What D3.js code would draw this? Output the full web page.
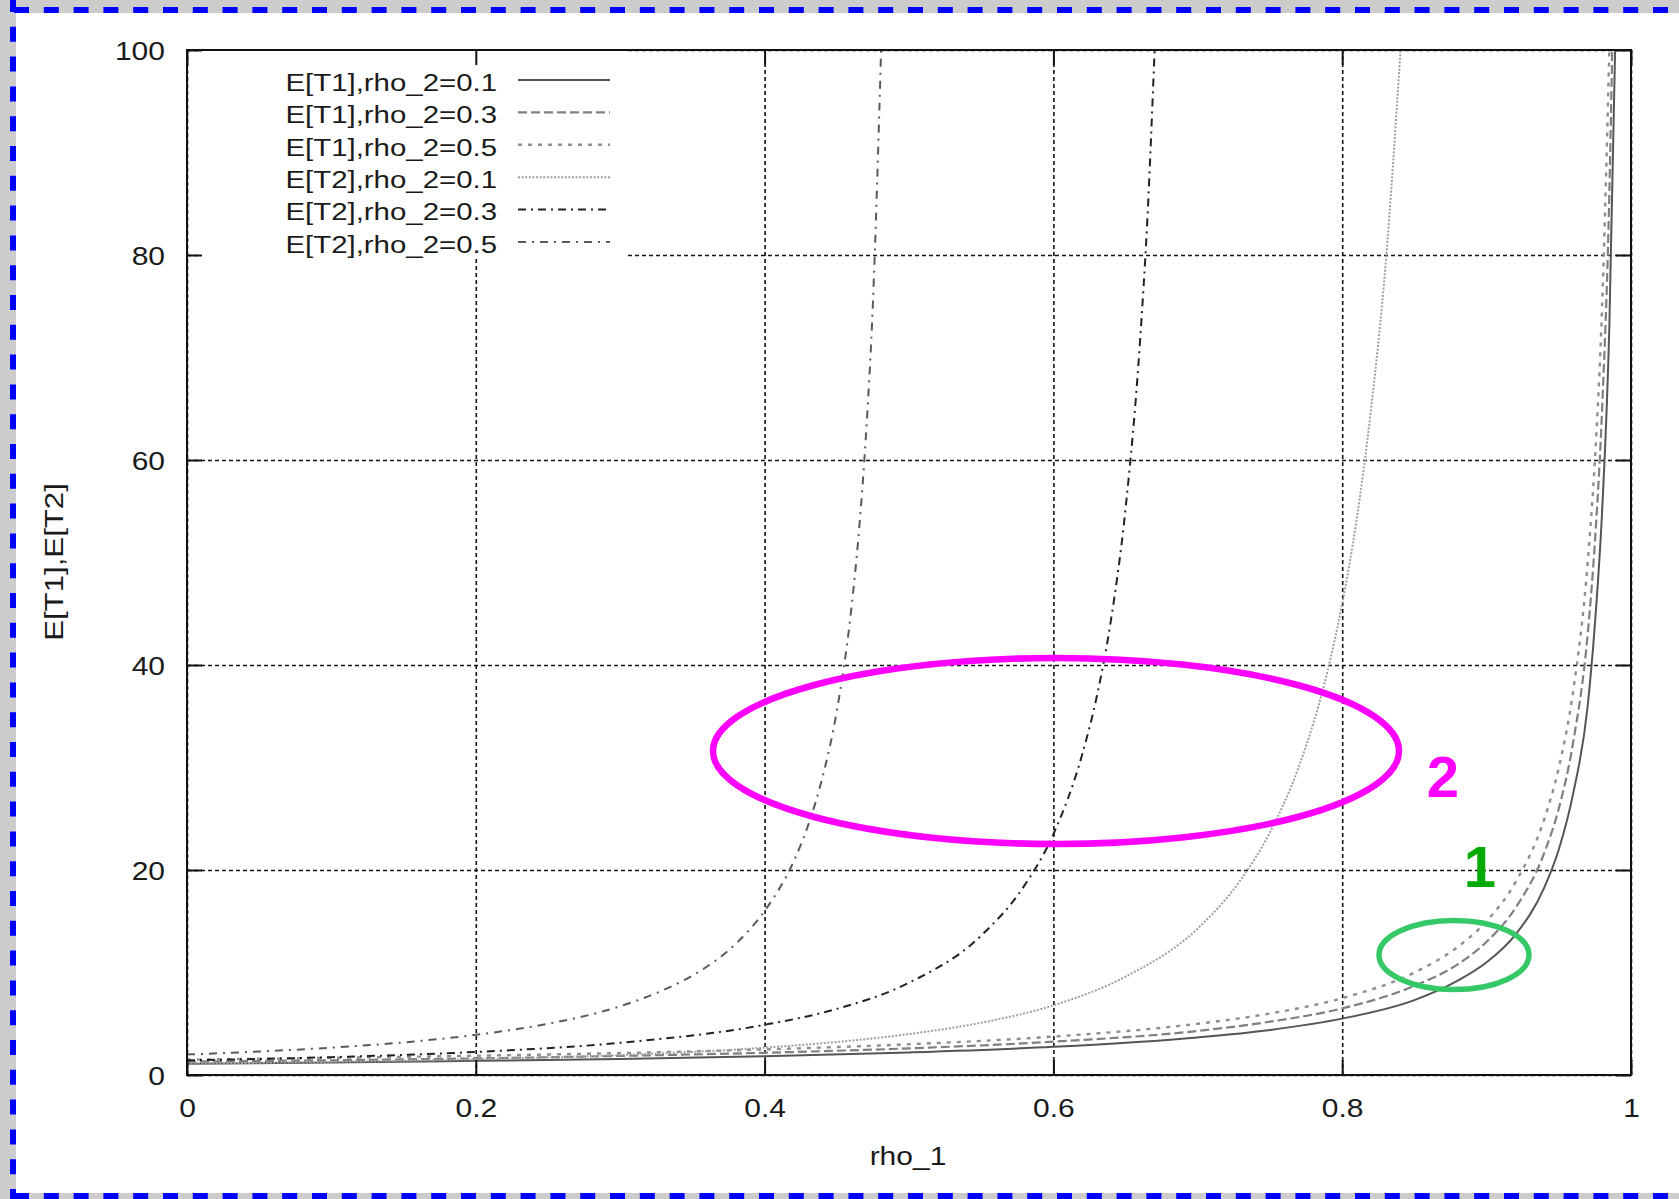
<!DOCTYPE html>
<html>
<head>
<meta charset="utf-8">
<script src="https://cdn.jsdelivr.net/npm/d3@7"></script>
<style>
  body { margin: 0; background: #cccccc; }
  svg { display: block; }
  text { font-family: "Liberation Sans", Arial, sans-serif; fill: #1a1a1a; }
</style>
</head>
<body>
<svg id="chart" width="1679" height="1199"></svg>
<script>
// values
var xTicks = [0, 0.2, 0.4, 0.6, 0.8, 1];
var xTickLabels = ["0", "0.2", "0.4", "0.6", "0.8", "1"];
var yTicks = [0, 20, 40, 60, 80, 100];
var yTickLabels = ["0", "20", "40", "60", "80", "100"];

var seriesNames = ["E[T1],rho_2=0.1", "E[T1],rho_2=0.3", "E[T1],rho_2=0.5",
                   "E[T2],rho_2=0.1", "E[T2],rho_2=0.3", "E[T2],rho_2=0.5"];

var rhoT1a = [0, 0.1, 0.2, 0.3, 0.4, 0.5, 0.6, 0.7, 0.75, 0.8, 0.85, 0.88, 0.9, 0.92, 0.94, 0.95, 0.96, 0.97, 0.975, 0.98, 0.985, 0.989];
var valT1a = [1.1, 1.22, 1.38, 1.57, 1.83, 2.2, 2.75, 3.67, 4.4, 5.5, 7.3, 9.2, 11, 13.7, 18.3, 22, 27.5, 36, 44, 55, 73, 100];

var rhoT1b = [0, 0.1, 0.2, 0.3, 0.4, 0.5, 0.6, 0.7, 0.75, 0.8, 0.85, 0.88, 0.9, 0.92, 0.94, 0.95, 0.96, 0.97, 0.975, 0.98, 0.985, 0.987];
var valT1b = [1.3, 1.44, 1.62, 1.86, 2.17, 2.6, 3.25, 4.3, 5.2, 6.5, 8.7, 10.8, 13, 16.3, 21.7, 26, 32.5, 43, 52, 65, 86, 100];

var rhoT1c = [0, 0.1, 0.2, 0.3, 0.4, 0.5, 0.6, 0.7, 0.75, 0.8, 0.85, 0.88, 0.9, 0.92, 0.94, 0.95, 0.96, 0.97, 0.975, 0.98, 0.985];
var valT1c = [1.5, 1.67, 1.88, 2.14, 2.5, 3.0, 3.75, 5.0, 6.0, 7.5, 10, 12.5, 15, 18.8, 25, 30, 37.5, 50, 60, 75, 100];

var rhoT2a = [0, 0.1, 0.2, 0.3, 0.4, 0.5, 0.55, 0.6, 0.65, 0.7, 0.73, 0.75, 0.77, 0.79, 0.8, 0.81, 0.82, 0.83, 0.8404];
var valT2a = [1.11, 1.28, 1.54, 1.95, 2.67, 4.0, 5.1, 6.8, 9.6, 14.3, 19.1, 23.7, 30.1, 39.5, 46, 54.2, 65, 79, 100];

var rhoT2b = [0, 0.1, 0.2, 0.3, 0.4, 0.45, 0.5, 0.55, 0.58, 0.6, 0.62, 0.63, 0.64, 0.65, 0.66, 0.665, 0.6701];
var valT2b = [1.43, 1.74, 2.25, 3.14, 4.9, 6.45, 9, 13.6, 18.5, 23.5, 31.3, 36.9, 44.5, 55.3, 71.6, 83.3, 100];

var rhoT2c = [0, 0.05, 0.1, 0.15, 0.2, 0.25, 0.3, 0.33, 0.35, 0.38, 0.4, 0.42, 0.43, 0.44, 0.45, 0.46, 0.465, 0.47, 0.475, 0.4807];
var valT2c = [2.0, 2.29, 2.67, 3.18, 3.92, 5.0, 6.71, 8.3, 9.7, 12.8, 16, 20.8, 24.3, 29, 35.5, 45.4, 52.5, 62, 75.3, 100];

var seriesRho = [rhoT1a, rhoT1b, rhoT1c, rhoT2a, rhoT2b, rhoT2c];
var seriesVal = [valT1a, valT1b, valT1c, valT2a, valT2b, valT2c];

var lineColors = ["#555555", "#808080", "#8e8e8e", "#a0a0a0", "#222222", "#5a5a5a"];
var lineDashes = [null, "9,4", "4,6", "2,1.6", "8,5,2,5", "8,6,2,6"];
var lineWidths = [2, 2.2, 2.4, 2, 2, 2];

var svg = d3.select("#chart");
var plotL = 187, plotR = 1631, plotT = 50, plotB = 1075;
var STRETCH = "scale(1.2,1)";

var x = d3.scaleLinear().domain([0, 1]).range([plotL, plotR]);
var y = d3.scaleLinear().domain([0, 100]).range([plotB, plotT]);

// page: grey background, white sheet, blue dashed edges
svg.append("rect").attr("width", 1679).attr("height", 1199).attr("fill", "#cccccc");
svg.append("rect").attr("x", 16).attr("y", 13).attr("width", 1663).attr("height", 1180).attr("fill", "#ffffff");
var edge = svg.append("g").attr("fill", "none").attr("stroke", "#0000ff")
	.attr("stroke-width", 6).attr("stroke-dasharray", "15,14.8");
edge.append("line").attr("x1", 14).attr("y1", 10).attr("x2", 1679).attr("y2", 10);
edge.append("line").attr("x1", 13).attr("y1", -3).attr("x2", 13).attr("y2", 1199);
edge.append("line").attr("x1", 14).attr("y1", 1196).attr("x2", 1679).attr("y2", 1196);

// grid
var gridY = svg.append("g").attr("transform", "translate(" + plotL + ",0)")
	.call(d3.axisLeft(y).tickValues(yTicks).tickSize(-(plotR - plotL)).tickFormat(""));
var gridX = svg.append("g").attr("transform", "translate(0," + plotB + ")")
	.call(d3.axisBottom(x).tickValues(xTicks).tickSize(-(plotB - plotT)).tickFormat(""));
[gridY, gridX].forEach(function(g) {
	g.select(".domain").remove();
	g.selectAll(".tick line").attr("stroke", "#111").attr("stroke-width", 1.6)
		.attr("stroke-dasharray", "4,3");
});

// key box hides the grid behind it
svg.append("rect").attr("x", 200).attr("y", 51).attr("width", 428).attr("height", 206).attr("fill", "#ffffff");

// curves
svg.append("clipPath").attr("id", "plotClip").append("rect")
	.attr("x", plotL).attr("y", plotT).attr("width", plotR - plotL).attr("height", plotB - plotT);

var line = d3.line().x(function(d) { return x(d[0]); }).y(function(d) { return y(d[1]); })
	.curve(d3.curveMonotoneX);

var curves = svg.append("g").attr("clip-path", "url(#plotClip)");
for (var i = 0; i < seriesNames.length; i++) {
	var pts = seriesRho[i].map(function(r, j) { return [r, seriesVal[i][j]]; });
	curves.append("path").datum(pts)
		.attr("d", line)
		.attr("fill", "none")
		.attr("stroke", lineColors[i])
		.attr("stroke-width", lineWidths[i])
		.attr("stroke-dasharray", lineDashes[i]);
}

// frame and inward ticks
svg.append("rect").attr("x", plotL).attr("y", plotT).attr("width", plotR - plotL).attr("height", plotB - plotT)
	.attr("fill", "none").attr("stroke", "#111").attr("stroke-width", 2);

var axL = svg.append("g").attr("transform", "translate(" + plotL + ",0)")
	.call(d3.axisLeft(y).tickValues(yTicks).tickSize(-15).tickSizeOuter(0)
		.tickFormat(function(d, i) { return yTickLabels[i]; }));
var axB = svg.append("g").attr("transform", "translate(0," + plotB + ")")
	.call(d3.axisBottom(x).tickValues(xTicks).tickSize(-15).tickSizeOuter(0)
		.tickFormat(function(d, i) { return xTickLabels[i]; }));
var axR = svg.append("g").attr("transform", "translate(" + plotR + ",0)")
	.call(d3.axisRight(y).tickValues(yTicks).tickSize(-15).tickSizeOuter(0).tickFormat(""));
var axT = svg.append("g").attr("transform", "translate(0," + plotT + ")")
	.call(d3.axisTop(x).tickValues(xTicks).tickSize(-15).tickSizeOuter(0).tickFormat(""));
[axL, axB, axR, axT].forEach(function(g) {
	g.select(".domain").remove();
	g.selectAll(".tick line").attr("stroke", "#111").attr("stroke-width", 2);
});
axL.selectAll(".tick text")
	.attr("x", 0).attr("dy", "0.37em")
	.attr("transform", "translate(-22,0) " + STRETCH)
	.attr("font-size", 25).attr("font-family", null).attr("fill", "#1a1a1a");
axB.selectAll(".tick text")
	.attr("y", 0).attr("dy", 0)
	.attr("transform", "translate(0,42) " + STRETCH)
	.attr("font-size", 25).attr("font-family", null).attr("fill", "#1a1a1a");

// axis titles
svg.append("text").attr("transform", "translate(908,1165) " + STRETCH)
	.attr("text-anchor", "middle").attr("font-size", 25).text("rho_1");
svg.append("text").attr("transform", "translate(63,562) rotate(-90) " + STRETCH)
	.attr("text-anchor", "middle").attr("font-size", 26).text("E[T1],E[T2]");

// key
var key = svg.append("g");
for (var k = 0; k < seriesNames.length; k++) {
	var ky = 80 + k * 32.4;
	key.append("text").attr("transform", "translate(497," + (ky + 10.7) + ") " + STRETCH)
		.attr("text-anchor", "end").attr("font-size", 24.5).text(seriesNames[k]);
	key.append("line").attr("x1", 518).attr("x2", 610).attr("y1", ky).attr("y2", ky)
		.attr("stroke", lineColors[k]).attr("stroke-width", lineWidths[k])
		.attr("stroke-dasharray", lineDashes[k]);
}

// hand-drawn highlights
svg.append("ellipse").attr("cx", 1056).attr("cy", 751).attr("rx", 343).attr("ry", 93)
	.attr("fill", "none").attr("stroke", "#ff00ff").attr("stroke-width", 6.5);
svg.append("text").attr("x", 1443).attr("y", 797).attr("text-anchor", "middle")
	.attr("font-size", 58).attr("font-weight", "bold").style("fill", "#ff00ff").text("2");

svg.append("ellipse").attr("cx", 1454).attr("cy", 955).attr("rx", 75).attr("ry", 34.5)
	.attr("fill", "none").attr("stroke", "#35c866").attr("stroke-width", 5.5);
svg.append("text").attr("x", 1480).attr("y", 887).attr("text-anchor", "middle")
	.attr("font-size", 58).attr("font-weight", "bold").style("fill", "#00aa00").text("1");
</script>
</body>
</html>
